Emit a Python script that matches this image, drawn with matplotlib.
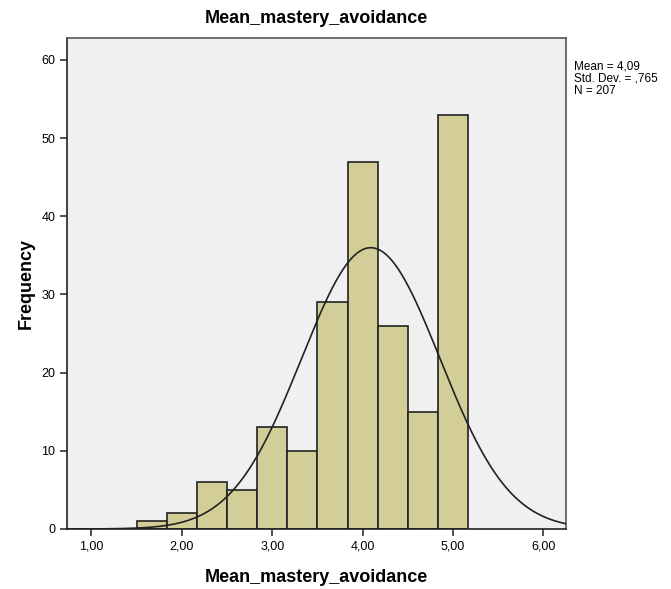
import numpy as np
import matplotlib.pyplot as plt

plt.rcParams['font.family'] = ['Liberation Sans', 'DejaVu Sans']

# histogram data
bin_edges = [1.5, 1.8333, 2.1667, 2.5, 2.8333, 3.1667, 3.5, 3.8333, 4.1667, 4.5, 4.8333, 5.1667]
counts = [1, 2, 6, 5, 13, 10, 29, 47, 26, 15, 53]
mean, sd, n = 4.09, 0.765, 207
x_ticks = [1, 2, 3, 4, 5, 6]
x_labels = ['1,00', '2,00', '3,00', '4,00', '5,00', '6,00']
y_ticks = [0, 10, 20, 30, 40, 50, 60]

fig = plt.figure(figsize=(6.71, 5.89), dpi=100)
ax = fig.add_axes([0.0999, 0.1019, 0.7436, 0.8336])
ax.set_facecolor('#f0f0f0')

edges = np.array(bin_edges)
ax.bar(edges[:-1], counts, width=np.diff(edges), align='edge',
       color='#d3ce97', edgecolor='#222222', linewidth=1.2, zorder=2)

# normal curve scaled to counts
bw = edges[1] - edges[0]
xs = np.linspace(0.73, 6.25, 400)
ys = n * bw / (sd * np.sqrt(2 * np.pi)) * np.exp(-0.5 * ((xs - mean) / sd) ** 2)
ax.plot(xs, ys, color='#222222', linewidth=1.2, zorder=3)

ax.set_xlim(0.73, 6.25)
ax.set_ylim(0, 62.8)
ax.set_xticks(x_ticks)
ax.set_xticklabels(x_labels)
ax.set_yticks(y_ticks)
ax.tick_params(axis='both', labelsize=9, color='#333333', length=5, width=1.2)
for s in ax.spines.values():
    s.set_color('#555555')
    s.set_linewidth(1.2)
ax.spines['bottom'].set_color('#222222')
ax.spines['left'].set_color('#222222')

ax.set_title('Mean_mastery_avoidance', fontsize=13, fontweight='bold', pad=11)
ax.set_xlabel('Mean_mastery_avoidance', fontsize=13, fontweight='bold', labelpad=12)
ax.set_ylabel('Frequency', fontsize=13, fontweight='bold', labelpad=5)

fig.text(0.855, 0.897, 'Mean = 4,09\nStd. Dev. = ,765\nN = 207',
         fontsize=8.5, va='top', ha='left', linespacing=1.0)

fig.savefig('out.png', dpi=100)
